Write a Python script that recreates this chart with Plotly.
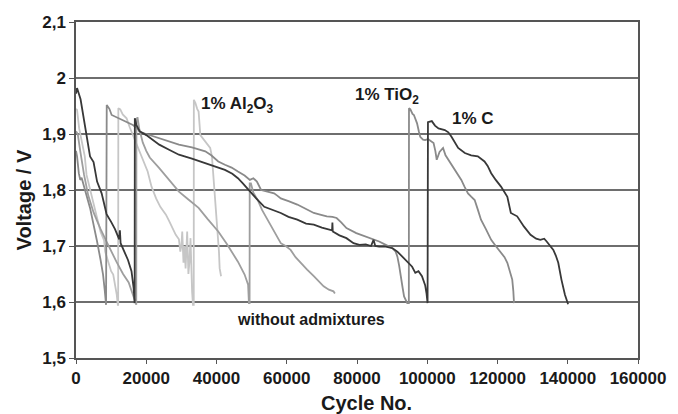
import plotly.graph_objects as go

# ---------------- data ----------------
# Series "1% C" (dark) - three discharge segments joined by recharge jumps
c_x = [0, 300, 1300, 2700, 4000, 5000, 6000, 7300, 8700, 10000, 11100, 12300, 12500, 12700, 14000, 14800, 15800, 16400, 16700,
       16750, 17200, 18100, 20000, 21000, 23700, 26500, 29300, 33000, 36800, 40000, 42400, 44500, 46100, 47500, 49000,
       51300, 53600, 56000, 58300, 60500, 63000, 65500, 67700, 70000, 72300, 72900, 73000, 73100, 75000, 77000, 79000,
       80700, 82500, 84000, 84700, 85200, 86300, 88200, 90100, 91500, 92900, 94200, 95700, 96600, 97500, 98500, 99400,
       99800, 99950,
       100090, 100200, 101300, 102200, 103200, 105000, 106000, 106900, 108000, 108800, 110700, 112500, 114400, 116300,
       117200, 118200, 119500, 121000, 122800, 123300, 123800, 125600, 127500, 129400, 131000, 132200, 133300, 134000,
       135000, 135900, 136600, 137300, 138200, 139200, 140100]
c_v = [1.972, 1.982, 1.962, 1.912, 1.860, 1.850, 1.815, 1.794, 1.757, 1.743, 1.730, 1.712, 1.728, 1.705, 1.688, 1.675, 1.655, 1.625, 1.598,
       1.928, 1.916, 1.905, 1.898, 1.893, 1.881, 1.872, 1.863, 1.856, 1.848, 1.841, 1.836, 1.829, 1.821, 1.812, 1.801,
       1.785, 1.770, 1.764, 1.759, 1.752, 1.747, 1.740, 1.738, 1.733, 1.729, 1.728, 1.742, 1.726, 1.719, 1.714, 1.705,
       1.702, 1.703, 1.700, 1.711, 1.700, 1.699, 1.699, 1.696, 1.690, 1.681, 1.672, 1.663, 1.652, 1.655, 1.646, 1.630,
       1.615, 1.598,
       1.598, 1.921, 1.923, 1.915, 1.910, 1.907, 1.903, 1.895, 1.882, 1.875, 1.866, 1.862, 1.860, 1.851,
       1.843, 1.830, 1.818, 1.806, 1.788, 1.775, 1.759, 1.753, 1.735, 1.720, 1.713, 1.711, 1.713, 1.708,
       1.700, 1.693, 1.683, 1.670, 1.640, 1.613, 1.596]

# Series "1% TiO2" (medium grey)
t_x = [0, 300, 800, 1200, 1600, 2200, 3000, 4000, 5200, 6000, 7000, 7700, 8200, 8500,
       8560, 8750, 9500, 10150, 11500, 13400, 15000, 16200, 17500, 18100, 20000, 23700, 26500, 29300, 33000, 36800,
       38500, 40500, 42400, 44300, 46100, 48000, 49500, 50500, 51500, 52700, 54500, 56400, 57300, 58300, 60500, 63000,
       65500, 67700, 69500, 71400, 73000, 74200, 75500, 77000, 79800, 82600, 84500, 86300, 88200, 90100, 91000, 91500,
       92000, 92400, 93000, 93400, 94300,
       94760, 94800, 95200, 95800, 96200, 96700, 97100, 97600, 98000, 98800, 99400, 100200, 101000, 101800, 102300,
       102700, 103500, 104500, 105200, 106000, 107000, 107900, 108800, 109700, 110600, 111600, 112500, 113500, 114400,
       115300, 116700, 118200, 119500, 121000, 122000, 122800, 123300, 123700, 124200, 124500, 124700]
t_v = [1.870, 1.860, 1.830, 1.818, 1.822, 1.810, 1.790, 1.768, 1.735, 1.708, 1.675, 1.649, 1.620, 1.595,
       1.595, 1.952, 1.945, 1.934, 1.930, 1.925, 1.920, 1.916, 1.910, 1.904, 1.900, 1.892, 1.886, 1.881, 1.876, 1.869,
       1.862, 1.851, 1.845, 1.840, 1.833, 1.826, 1.818, 1.821, 1.815, 1.800, 1.797, 1.794, 1.790, 1.785, 1.780, 1.774,
       1.766, 1.759, 1.756, 1.753, 1.752, 1.750, 1.742, 1.732, 1.723, 1.717, 1.712, 1.708, 1.702, 1.696, 1.690, 1.681,
       1.665, 1.646, 1.625, 1.610, 1.598,
       1.598, 1.946, 1.944, 1.936, 1.934, 1.925, 1.919, 1.905, 1.895, 1.890, 1.889, 1.891, 1.887, 1.884, 1.870,
       1.854, 1.868, 1.875, 1.862, 1.854, 1.845, 1.836, 1.828, 1.818, 1.806, 1.794, 1.788, 1.782, 1.765,
       1.747, 1.730, 1.711, 1.700, 1.687, 1.680, 1.670, 1.660, 1.650, 1.640, 1.620, 1.598]

# Series "1% Al2O3" (light grey)
a_x = [0, 300, 900, 1700, 2500, 3000, 4000, 5000, 6000, 7000, 8000, 8300, 9000, 10000, 10600, 11300, 11600, 11900,
       12000, 12050, 12600, 13300, 14400, 15300, 16200, 17200, 18100, 19300, 20000, 20400, 21500, 22800, 24000, 25600,
       26500, 27400, 28400, 29300, 29700, 30000, 30250, 30600, 30900, 31200, 31650, 32000, 32300, 32600, 32800, 33050, 33300,
       33520, 33550, 34000, 34500, 34900, 35400, 36000, 36800, 37500, 38200, 38700, 39100, 39600, 40060, 40300, 40530,
       40700, 40900, 41300]
a_v = [1.945, 1.943, 1.910, 1.886, 1.860, 1.827, 1.800, 1.775, 1.750, 1.725, 1.710, 1.690, 1.675, 1.655, 1.649, 1.625, 1.613, 1.595,
       1.595, 1.946, 1.944, 1.935, 1.928, 1.912, 1.898, 1.883, 1.869, 1.852, 1.838, 1.833, 1.806, 1.785, 1.770, 1.756,
       1.745, 1.732, 1.720, 1.712, 1.690, 1.700, 1.726, 1.670, 1.700, 1.660, 1.726, 1.650, 1.672, 1.714, 1.650, 1.619, 1.595,
       1.595, 1.961, 1.955, 1.945, 1.940, 1.898, 1.893, 1.886, 1.880, 1.875, 1.860, 1.827, 1.790, 1.756, 1.735, 1.720,
       1.690, 1.660, 1.646]

# Series "without admixtures" (grey)
w_x = [0, 500, 1200, 2300, 3500, 5000, 6000, 7000, 8700, 10000, 11500, 13400, 15000, 16200, 16900, 17150,
       17160, 17200, 17500, 18000, 19000, 20000, 21000, 23700, 26500, 29300, 32000, 34900, 37500, 40500, 43000, 46100,
       48000, 49000, 49230,
       49420, 49450, 49800, 50500, 51750, 53000, 54560, 56400, 58300, 59700, 61100, 62500, 63900, 65800, 67700, 69000,
       70500, 72000, 73300, 73700]
w_v = [1.905, 1.900, 1.870, 1.827, 1.790, 1.760, 1.745, 1.730, 1.708, 1.690, 1.672, 1.650, 1.635, 1.613, 1.600, 1.595,
       1.595, 1.925, 1.930, 1.910, 1.885, 1.870, 1.858, 1.839, 1.818, 1.797, 1.783, 1.768, 1.748, 1.726, 1.703, 1.672,
       1.649, 1.631, 1.598,
       1.598, 1.812, 1.812, 1.795, 1.782, 1.764, 1.747, 1.725, 1.705, 1.700, 1.693, 1.680, 1.670, 1.658, 1.646, 1.637,
       1.628, 1.622, 1.619, 1.615]

x_ticks = [0, 20000, 40000, 60000, 80000, 100000, 120000, 140000, 160000]
x_tick_text = ["0", "20000", "40000", "60000", "80000", "100000", "120000", "140000", "160000"]
y_ticks = [1.5, 1.6, 1.7, 1.8, 1.9, 2.0, 2.1]
y_tick_text = ["1,5", "1,6", "1,7", "1,8", "1,9", "2", "2,1"]

# ---------------- figure ----------------
FONT = "Liberation Sans, Arial, sans-serif"
fig = go.Figure()
series = [
    ("1% Al2O3", a_x, a_v, "#c6c6c6"),
    ("without admixtures", w_x, w_v, "#9e9e9e"),
    ("1% TiO2", t_x, t_v, "#8a8a8a"),
    ("1% C", c_x, c_v, "#383838"),
]
for name, xs, ys, col in series:
    fig.add_trace(go.Scatter(x=xs, y=ys, mode="lines", name=name,
                             line=dict(color=col, width=1.8), showlegend=False))

ann_font = dict(family=FONT, size=17, color="#1a1a1a", weight="bold")
fig.add_annotation(x=46000, y=1.952, text="1% Al<sub>2</sub>O<sub>3</sub>", showarrow=False,
                   font=ann_font, xanchor="center", yanchor="middle")
fig.add_annotation(x=88500, y=1.968, text="1% TiO<sub>2</sub>", showarrow=False,
                   font=ann_font, xanchor="center", yanchor="middle")
fig.add_annotation(x=112900, y=1.927, text="1% C", showarrow=False,
                   font=ann_font, xanchor="center", yanchor="middle")
fig.add_annotation(x=67000, y=1.568, text="without admixtures", showarrow=False,
                   font=dict(family=FONT, size=16, color="#1a1a1a", weight="bold"),
                   xanchor="center", yanchor="middle")

# axis titles
fig.add_annotation(xref="paper", yref="paper", x=-0.0932, y=0.4707, text="Voltage / V",
                   textangle=-90, showarrow=False, xanchor="center", yanchor="middle",
                   font=dict(family=FONT, size=20, color="#1a1a1a", weight="bold"))
fig.add_annotation(xref="paper", yref="paper", x=0.5163, y=-0.133, text="Cycle No.",
                   showarrow=False, xanchor="center", yanchor="middle",
                   font=dict(family=FONT, size=20, color="#1a1a1a", weight="bold"))

tick_font = dict(family=FONT, size=17, color="#1a1a1a", weight="bold")
fig.update_layout(
    width=678, height=414,
    margin=dict(l=76, r=34, t=22, b=56),
    paper_bgcolor="white", plot_bgcolor="white",
    font=dict(family=FONT, color="#1a1a1a"),
    xaxis=dict(range=[0, 160000], tickvals=x_ticks, ticktext=x_tick_text,
               showgrid=False, zeroline=False, showline=True, linecolor="#555555", linewidth=1.5,
               mirror=True, ticks="outside", ticklen=4, tickcolor="#555555", tickwidth=1.2,
               tickfont=tick_font),
    yaxis=dict(range=[1.5, 2.1], tickvals=y_ticks, ticktext=y_tick_text,
               showgrid=True, gridcolor="#6e6e6e", gridwidth=1.5, zeroline=False,
               showline=True, linecolor="#555555", linewidth=1.5, mirror=True,
               ticks="outside", ticklen=5, tickcolor="#555555", tickwidth=1.2,
               tickfont=tick_font),
)

fig.write_html("out.html")
